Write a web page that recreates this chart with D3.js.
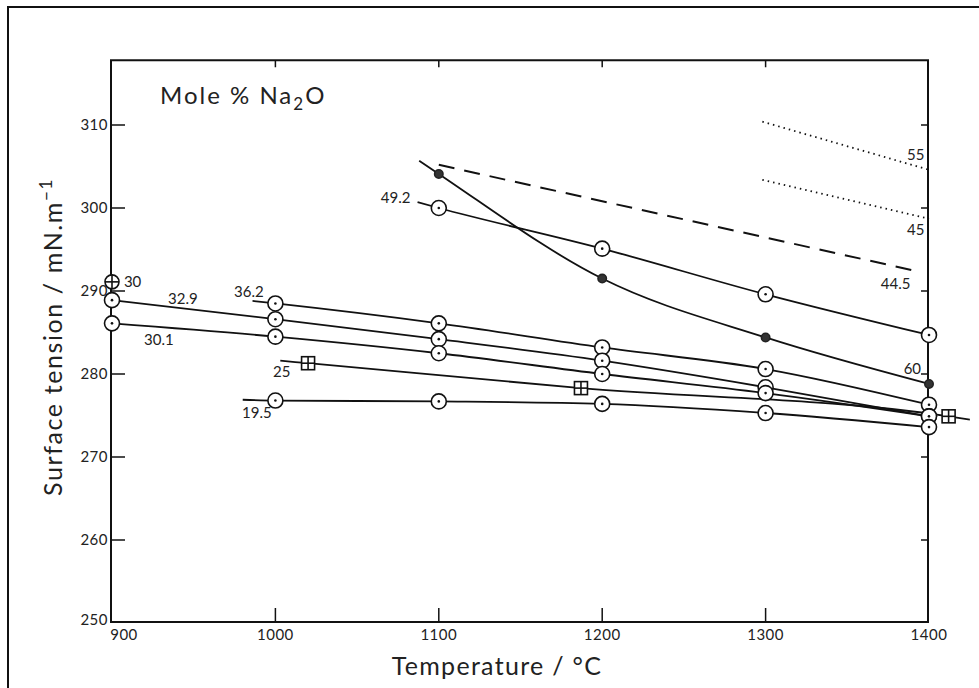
<!DOCTYPE html>
<html>
<head>
<meta charset="utf-8">
<script src="https://cdn.jsdelivr.net/npm/d3@7"></script>
<style>
  body { margin: 0; background: #fff; }
  svg { display: block; font-family: Lato, "Noto Sans", sans-serif; }
</style>
</head>
<body>
<svg id="chart" width="979" height="688"></svg>
<script>
// axis ticks
const xTicks = [900, 1000, 1100, 1200, 1300, 1400];
const yTicks = [250, 260, 270, 280, 290, 300, 310];

// fitted curves (incl. the short tails)
const line492 = [[1087, 300.7], [1100, 300.0], [1200, 295.1], [1300, 289.6], [1400, 284.7]];
const line60  = [[1088, 305.7], [1100, 304.1], [1200, 291.5], [1300, 284.4], [1400, 278.8]];
const line362 = [[986, 288.8], [1000, 288.5], [1100, 286.1], [1200, 283.2], [1300, 280.6], [1400, 276.3]];
const line329 = [[900, 288.9], [1000, 286.6], [1100, 284.2], [1200, 281.6], [1300, 278.4], [1400, 274.9]];
const line301 = [[900, 286.1], [1000, 284.5], [1100, 282.5], [1200, 280.0], [1300, 277.7], [1400, 274.9]];
const line25  = [[1003, 281.6], [1020, 281.3], [1187, 278.3], [1412, 274.9], [1425, 274.5]];
const line195 = [[980, 276.9], [1000, 276.8], [1100, 276.7], [1200, 276.4], [1300, 275.3], [1400, 273.6]];
const line445 = [[1100, 305.2], [1390, 292.5]];
const line55  = [[1298, 310.4], [1400, 304.6]];
const line45  = [[1298, 303.4], [1400, 298.7]];

// measured points
const pts492 = [[1100, 300.0], [1200, 295.1], [1300, 289.6], [1400, 284.7]];
const pts60  = [[1100, 304.1], [1200, 291.5], [1300, 284.4], [1400, 278.8]];
const pts362 = [[1000, 288.5], [1100, 286.1], [1200, 283.2], [1300, 280.6], [1400, 276.3]];
const pts329 = [[900, 288.9], [1000, 286.6], [1100, 284.2], [1200, 281.6], [1300, 278.4], [1400, 274.9]];
const pts301 = [[900, 286.1], [1000, 284.5], [1100, 282.5], [1200, 280.0], [1300, 277.7], [1400, 274.9]];
const pts25  = [[1020, 281.3], [1187, 278.3], [1412, 274.9]];
const pts195 = [[1000, 276.8], [1100, 276.7], [1200, 276.4], [1300, 275.3], [1400, 273.6]];
const pts30  = [[900, 291.1]];

// composition labels and where they sit (data units)
const labelText = ["30", "32.9", "36.2", "30.1", "25", "19.5", "49.2", "60", "44.5", "45", "55"];
const labelAt = [[907.3, 290.5], [934.3, 288.4], [974.7, 289.3], [919.6, 283.5], [998.5, 279.6],
                 [979.6, 274.7], [1064.5, 300.6], [1384.5, 280.0], [1370.5, 290.2], [1386.5, 296.7], [1386.5, 305.8]];

const svg = d3.select("#chart");
const x = d3.scaleLinear().domain([900, 1400]).range([112, 929]);
const y = d3.scaleLinear().domain([250, 310]).range([623, 125]);

const fLeft = x(900) - 1, fRight = x(1400) - 1, fTop = y(317.8), fBottom = y(250) - 1;

// outer border (cut off at right/bottom)
svg.append("rect").attr("x", 8).attr("y", 7).attr("width", 1000).attr("height", 700)
  .attr("fill", "none").attr("stroke", "#111").attr("stroke-width", 2);

// plot frame
svg.append("rect").attr("x", fLeft).attr("y", fTop).attr("width", fRight - fLeft).attr("height", fBottom - fTop)
  .attr("fill", "none").attr("stroke", "#111").attr("stroke-width", 2);

const tk = svg.append("g").attr("stroke", "#111").attr("stroke-width", 1.5);
xTicks.slice(1, -1).forEach(t => {
  tk.append("line").attr("x1", x(t)).attr("x2", x(t)).attr("y1", fBottom).attr("y2", fBottom - 14);
  tk.append("line").attr("x1", x(t)).attr("x2", x(t)).attr("y1", fTop).attr("y2", fTop + 7);
});
yTicks.slice(1).forEach(t => {
  tk.append("line").attr("x1", fLeft).attr("x2", fLeft + 14).attr("y1", y(t)).attr("y2", y(t));
  tk.append("line").attr("x1", fRight).attr("x2", fRight - 7).attr("y1", y(t)).attr("y2", y(t));
});

// tick labels
svg.append("g").selectAll("text").data(xTicks).join("text")
  .attr("x", d => d === 900 ? x(d) + 12 : x(d)).attr("y", 640)
  .attr("text-anchor", "middle").attr("font-size", 15).attr("letter-spacing", 0.5).attr("fill", "#222")
  .text(d => d);
svg.append("g").selectAll("text").data(yTicks).join("text")
  .attr("x", fLeft - 3).attr("y", d => d === 250 ? y(d) + 2 : y(d) + 5)
  .attr("text-anchor", "end").attr("font-size", 15).attr("letter-spacing", 0.5).attr("fill", "#222")
  .text(d => d);

// axis titles
svg.append("text").attr("x", 497).attr("y", 675).attr("text-anchor", "middle")
  .attr("font-size", 25).attr("letter-spacing", 1.3).attr("fill", "#222").text("Temperature / °C");
const yt = svg.append("text").attr("transform", "translate(62,337) rotate(-90)")
  .attr("text-anchor", "middle").attr("font-size", 25).attr("letter-spacing", 1.6).attr("fill", "#222");
yt.append("tspan").text("Surface tension / mN.m");
yt.append("tspan").attr("dy", -10).attr("font-size", 17).text("−1");

const tt = svg.append("text").attr("x", 160).attr("y", 104).attr("font-size", 24)
  .attr("letter-spacing", 2).attr("fill", "#222");
tt.append("tspan").text("Mole % Na");
tt.append("tspan").attr("dy", 6).attr("font-size", 17).text("2");
tt.append("tspan").attr("dy", -6).text("O");

// curves
const curve = d3.line().x(d => x(d[0])).y(d => y(d[1])).curve(d3.curveMonotoneX);
const lines = svg.append("g").attr("fill", "none").attr("stroke", "#111").attr("stroke-width", 1.8);
[line492, line60, line362, line329, line301, line25, line195].forEach(l =>
  lines.append("path").attr("d", curve(l)));
lines.append("path").attr("d", curve(line445)).attr("stroke-dasharray", "16 10").attr("stroke-width", 2);
[line55, line45].forEach(l =>
  lines.append("path").attr("d", curve(l)).attr("stroke-dasharray", "1.5 4").attr("stroke-width", 1.8));

// markers
const mk = svg.append("g").attr("stroke", "#111").attr("stroke-width", 1.6);
function dotCircle(p) {
  mk.append("circle").attr("cx", x(p[0])).attr("cy", y(p[1])).attr("r", 7.5).attr("fill", "#fff");
  mk.append("circle").attr("cx", x(p[0])).attr("cy", y(p[1])).attr("r", 1.3).attr("fill", "#111").attr("stroke", "none");
}
function filled(p) {
  mk.append("circle").attr("cx", x(p[0])).attr("cy", y(p[1])).attr("r", 4.2).attr("fill", "#333").attr("stroke", "#222");
}
function boxCross(p) {
  const cx = x(p[0]), cy = y(p[1]);
  mk.append("rect").attr("x", cx - 6.5).attr("y", cy - 6.5).attr("width", 13).attr("height", 13).attr("fill", "#fff");
  mk.append("line").attr("x1", cx).attr("x2", cx).attr("y1", cy - 6.5).attr("y2", cy + 6.5);
  mk.append("line").attr("x1", cx - 6.5).attr("x2", cx + 6.5).attr("y1", cy).attr("y2", cy);
}
function circCross(p) {
  const cx = x(p[0]), cy = y(p[1]);
  mk.append("circle").attr("cx", cx).attr("cy", cy).attr("r", 7).attr("fill", "#fff");
  mk.append("line").attr("x1", cx).attr("x2", cx).attr("y1", cy - 7).attr("y2", cy + 7);
  mk.append("line").attr("x1", cx - 7).attr("x2", cx + 7).attr("y1", cy).attr("y2", cy);
}
[pts492, pts362, pts329, pts301, pts195].forEach(s => s.forEach(dotCircle));
pts60.forEach(filled);
pts25.forEach(boxCross);
pts30.forEach(circCross);

// composition labels
svg.append("g").selectAll("text").data(labelText).join("text")
  .attr("x", (d, i) => x(labelAt[i][0])).attr("y", (d, i) => y(labelAt[i][1]))
  .attr("font-size", 15).attr("fill", "#222").text(d => d);
</script>
</body>
</html>
